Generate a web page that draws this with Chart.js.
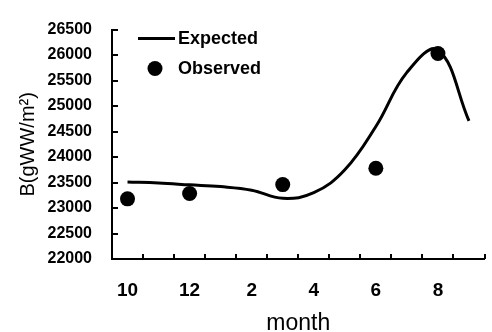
<!DOCTYPE html>
<html>
<head>
<meta charset="utf-8">
<script src="https://cdn.jsdelivr.net/npm/chart.js@4"></script>
<style>
html,body{margin:0;padding:0;background:#fff;}
#wrap{width:492px;height:332px;}
</style>
</head>
<body>
<div id="wrap"><canvas id="c" width="492" height="332"></canvas></div>
<script>
// ---- data ----
const months = ['10','11','12','1','2','3','4','5','6','7','8','9'];
const expected = [23510, 23490, 23455, 23420, 23350, 23190, 23300, 23750, 24600, 25660, 26100, 24710];
const observed = [23180, null, 23285, null, null, 23460, null, null, 23780, null, 26030, null];
const yMin = 22000, yMax = 26500, yStep = 500;
const xTitle = 'month';
const yTitle = 'B(gWW/m²)';
const seriesNames = ['Expected', 'Observed'];

const FONT = '"Liberation Sans", Arial, sans-serif';

const innerTicks = {
  id: 'innerTicks',
  afterDraw(chart) {
    const ctx = chart.ctx;
    const xs = chart.scales.x, ys = chart.scales.y;
    const ca = chart.chartArea;
    ctx.save();
    ctx.strokeStyle = '#000';
    ctx.lineWidth = 2;
    ctx.beginPath();
    ys.ticks.forEach(t => {
      const py = Math.round(ys.getPixelForValue(t.value));
      ctx.moveTo(ca.left, py);
      ctx.lineTo(ca.left + 6, py);
    });
    for (let k = 1; k <= months.length; k++) {
      const px = Math.round(xs.getPixelForValue(k - 0.5));
      ctx.moveTo(px, ca.bottom);
      ctx.lineTo(px, ca.bottom - 5);
    }
    ctx.stroke();
    ctx.restore();
  }
};

const legendIn = {
  id: 'legendIn',
  afterDraw(chart) {
    const ctx = chart.ctx;
    const ds = chart.data.datasets;
    ctx.save();
    ctx.font = 'bold 18px ' + FONT;
    ctx.fillStyle = '#000';
    ctx.textBaseline = 'middle';
    ctx.strokeStyle = ds[0].borderColor;
    ctx.lineWidth = ds[0].borderWidth;
    ctx.beginPath();
    ctx.moveTo(138, 38.5);
    ctx.lineTo(175, 38.5);
    ctx.stroke();
    ctx.fillText(ds[0].label, 178, 39);
    ctx.fillStyle = ds[1].pointBackgroundColor;
    ctx.beginPath();
    ctx.arc(155, 68.5, ds[1].pointRadius, 0, Math.PI * 2);
    ctx.fill();
    ctx.fillStyle = '#000';
    ctx.fillText(ds[1].label, 178, 69);
    ctx.restore();
  }
};

new Chart(document.getElementById('c'), {
  type: 'line',
  data: {
    labels: months,
    datasets: [
      {
        label: seriesNames[0],
        data: expected,
        borderColor: '#000',
        backgroundColor: '#000',
        borderWidth: 3,
        pointRadius: 0,
        tension: 0.4,
        fill: false
      },
      {
        label: seriesNames[1],
        data: observed,
        showLine: false,
        pointRadius: 7.5,
        pointBackgroundColor: '#000',
        pointBorderColor: '#000',
        pointBorderWidth: 0,
        borderColor: '#000',
        backgroundColor: '#000'
      }
    ]
  },
  options: {
    responsive: false,
    animation: false,
    devicePixelRatio: 1,
    layout: { padding: { top: 22.5, right: 5, left: 0, bottom: 0 } },
    plugins: { legend: { display: false }, tooltip: { enabled: false } },
    scales: {
      x: {
        type: 'category',
        offset: true,
        grid: { display: false, drawTicks: false },
        border: { display: true, color: '#000', width: 2 },
        ticks: {
          autoSkip: false,
          maxRotation: 0,
          padding: 20,
          color: '#000',
          font: { family: FONT, size: 19, weight: 'bold' },
          callback: function (v, i) { return i % 2 === 0 ? months[i] : ''; }
        },
        title: {
          display: true,
          text: xTitle,
          color: '#000',
          padding: 0,
          font: { family: FONT, size: 23, lineHeight: 0.7 }
        },
        afterFit(scale) { scale.height = 73; }
      },
      y: {
        min: yMin,
        max: yMax,
        grid: { display: false, drawTicks: false },
        border: { display: true, color: '#000', width: 2 },
        ticks: {
          stepSize: yStep,
          padding: 20,
          color: '#000',
          font: { family: FONT, size: 16, weight: 'bold' },
          callback: v => String(v)
        },
        title: {
          display: true,
          text: yTitle,
          color: '#000',
          padding: { top: 16, bottom: 0 },
          font: { family: FONT, size: 20 }
        },
        afterFit(scale) { scale.width = 112; }
      }
    }
  },
  plugins: [innerTicks, legendIn]
});
</script>
</body>
</html>
